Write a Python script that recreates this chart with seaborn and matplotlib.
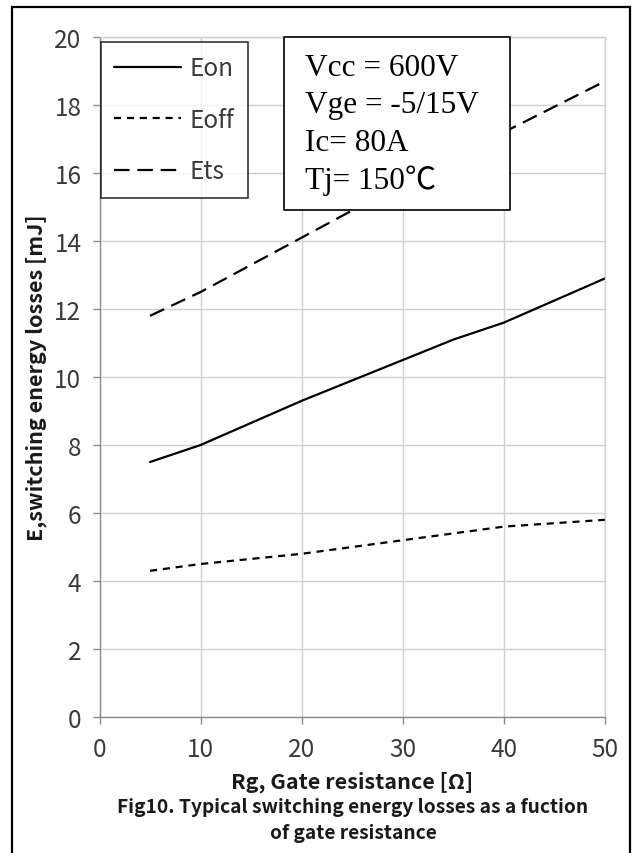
import matplotlib
matplotlib.use("Agg")
import matplotlib.pyplot as plt
from matplotlib.patches import Rectangle
from matplotlib.lines import Line2D
import seaborn as sns
import pandas as pd

# Gate resistance [ohm]
rg = [5, 10, 15, 20, 25, 30, 35, 40, 45, 50]
# Switching energies [mJ]
eon = [7.5, 8.0, 8.65, 9.3, 9.9, 10.5, 11.1, 11.6, 12.25, 12.9]
eoff = [4.3, 4.5, 4.65, 4.8, 5.0, 5.2, 5.4, 5.6, 5.7, 5.8]
ets = [11.8, 12.5, 13.3, 14.1, 14.9, 15.7, 16.5, 17.2, 17.95, 18.7]

series_names = ["Eon", "Eoff", "Ets"]
xticks = [0, 10, 20, 30, 40, 50]
yticks = [0, 2, 4, 6, 8, 10, 12, 14, 16, 18, 20]
conditions = ["Vcc = 600V", "Vge = -5/15V", "Ic= 80A", "Tj= 150\u2103"]

sns.set_theme(style="white")
plt.rcParams["font.family"] = ["Noto Sans CJK SC", "DejaVu Sans"]

df = pd.DataFrame({
    "rg": rg * 3,
    "e": eon + eoff + ets,
    "series": sum([[n] * len(rg) for n in series_names], []),
})

dash_map = {"Eon": "", "Eoff": (3.2, 2.6), "Ets": (7, 3.5)}

fig = plt.figure(figsize=(6.41, 8.54), dpi=100)
W, H = 641, 854
ax = fig.add_axes([99.5 / W, 1 - 718 / H, 505.5 / W, 680 / H])

sns.lineplot(data=df, x="rg", y="e", style="series", dashes=dash_map,
             color="black", linewidth=1.6, ax=ax, legend=False,
             estimator=None, sort=False)

ax.set_xlim(0, 50)
ax.set_ylim(0, 20)
ax.set_xticks(xticks)
ax.set_yticks(yticks)
ax.grid(True, color="#d0d0d0", linewidth=1.0)
ax.set_axisbelow(True)
for side in ["top", "right"]:
    ax.spines[side].set_color("#d0d0d0")
    ax.spines[side].set_linewidth(1.0)
for side in ["left", "bottom"]:
    ax.spines[side].set_color("#8c8c8c")
    ax.spines[side].set_linewidth(1.0)
ax.tick_params(axis="both", which="major", length=5, width=1.0,
               color="#8c8c8c", labelsize=17.5, left=True, bottom=True,
               labelcolor="#3a3a3a")
ax.tick_params(axis="y", pad=8)
ax.tick_params(axis="x", pad=9)
for lab in ax.get_xticklabels() + ax.get_yticklabels():
    lab.set_fontweight("light")

label_font = ["Noto Sans CJK SC", "DejaVu Sans"]
ax.set_xlabel("Rg, Gate resistance [\u03a9]", fontsize=15.5, fontweight="bold",
              family=label_font, labelpad=6, color="#1a1a1a")
ax.set_ylabel("E,switching energy losses [mJ]", fontsize=15.5, fontweight="bold",
              family=label_font, labelpad=5, color="#1a1a1a")

# caption under the chart
fig.text(353 / W, 1 - 808 / H, "Fig10. Typical switching energy losses as a fuction",
         ha="center", va="center", fontsize=13.8, fontweight="bold",
         family=label_font, color="#1a1a1a")
fig.text(353 / W, 1 - 834 / H, "of gate resistance",
         ha="center", va="center", fontsize=13.8, fontweight="bold",
         family=label_font, color="#1a1a1a")

# legend
handles = [Line2D([0], [0], color="black", linewidth=1.6,
                  linestyle=(0, dash_map[n]) if dash_map[n] else "-")
           for n in series_names]
leg = ax.legend(handles, series_names, loc="upper left",
                bbox_to_anchor=(0.003, 0.993), borderaxespad=0,
                fontsize=17.5, handlelength=2.75, handletextpad=0.35,
                labelspacing=1.05, borderpad=0.55, frameon=True,
                fancybox=False, edgecolor="black")
leg.get_frame().set_linewidth(1.2)
for t in leg.get_texts():
    t.set_color("#3a3a3a")
    t.set_fontweight("light")

# test conditions box
ax.add_patch(Rectangle((0.365, 0.746), 0.447, 0.254, transform=ax.transAxes,
                       facecolor="white", edgecolor="black", linewidth=1.2,
                       zorder=5, clip_on=False))
for i, s in enumerate(conditions):
    ax.text(0.4065, 0.955 - i * 0.0548, s, transform=ax.transAxes,
            ha="left", va="center", fontsize=22.5, color="black",
            family=["Liberation Serif", "Noto Sans CJK SC", "DejaVu Serif"],
            zorder=6)

# outer frame
fig.add_artist(Rectangle((12 / W, -0.1), (630 - 12) / W, 1.1 - 8 / H,
                         transform=fig.transFigure, facecolor="none",
                         edgecolor="black", linewidth=1.6))

fig.savefig("out.png", dpi=100)
